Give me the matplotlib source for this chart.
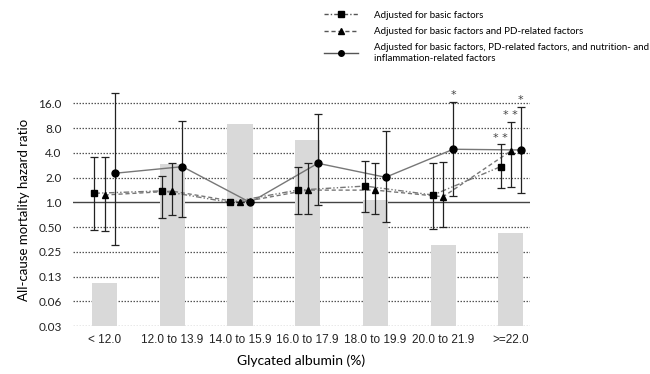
import numpy as np
from matplotlib import pyplot as plt
from matplotlib.lines import Line2D

categories = ['< 12.0', '12.0 to 13.9', '14.0 to 15.9', '16.0 to 17.9',
              '18.0 to 19.9', '20.0 to 21.9', '>=22.0']
bar_values = [0.106, 2.93, 9.0, 5.7, 1.07, 0.30, 0.43]

# hazard ratio, lower, upper
basic = [1.29, 1.38, 1.0, 1.41, 1.58, 1.23, 2.72]
basic_lo = [0.46, 0.65, 1.0, 0.72, 0.77, 0.48, 1.51]
basic_hi = [3.53, 2.09, 1.0, 2.67, 3.19, 2.99, 5.13]

pd_adj = [1.23, 1.37, 1.0, 1.41, 1.41, 1.17, 4.22]
pd_lo = [0.45, 0.70, 1.0, 0.73, 0.73, 0.50, 1.55]
pd_hi = [3.53, 3.04, 1.0, 3.04, 2.99, 3.12, 9.6]

full = [2.26, 2.72, 1.0, 2.99, 2.02, 4.43, 4.34]
full_lo = [0.30, 0.67, 1.0, 0.93, 0.57, 1.19, 1.29]
full_hi = [21.3, 9.8, 1.0, 11.8, 7.4, 16.8, 14.6]

# significance marks: (series index, category index, text)
marks = [(2, 5, '*'), (0, 6, '* *'), (1, 6, '* *'), (2, 6, '*')]

yticks = [1/32, 1/16, 1/8, 1/4, 1/2, 1, 2, 4, 8, 16]
ytick_labels = ['0.03', '0.06', '0.13', '0.25', '0.50', '1.0', '2.0', '4.0', '8.0', '16.0']

fig = plt.figure(figsize=(6.5, 3.74), dpi=100)
ax = fig.add_axes([0.112, 0.128, 0.703, 0.622])

x = np.arange(len(categories))
ax.set_yscale('log', base=2)
ax.set_ylim(1/32, 2 ** 4.4)
ax.set_xlim(-0.47, 6.28)

for t in yticks:
    if t == 1:
        ax.axhline(t, color='#444444', lw=1.0, zorder=1)
    else:
        ax.axhline(t, color='#555555', lw=0.9, ls=(0, (1.2, 1.2)), zorder=1)

ax.bar(x, np.array(bar_values) - 1/32, bottom=1/32, width=0.37,
       color='#d9d9d9', zorder=2)

series = [
    (basic, basic_lo, basic_hi, 's', (0, (4, 1.5, 1, 1.5, 1, 1.5)), -0.15),
    (pd_adj, pd_lo, pd_hi, '^', (0, (3, 2)), 0.0),
    (full, full_lo, full_hi, 'o', '-', 0.15),
]
tops = []
for vals, lo, hi, mk, ls, off in series:
    vals = np.array(vals)
    err = [vals - np.array(lo), np.array(hi) - vals]
    ax.plot(x + off, vals, color='#777777', lw=1.0, ls=ls, zorder=3)
    ax.errorbar(x + off, vals, yerr=err, fmt='none', ecolor='#222222',
                elinewidth=0.9, capsize=3, capthick=0.9, zorder=4, clip_on=False)
    ax.plot(x + off, vals, ls='none', marker=mk, color='black', ms=5, zorder=5)
    tops.append((off, hi))

for si, ci, txt in marks:
    off, hi = tops[si]
    ax.annotate(txt, (ci + off, hi[ci]), xytext=(0, 1), textcoords='offset points',
                ha='center', va='bottom', fontsize=8, color='#444444')

ax.set_yticks(yticks)
ax.set_yticklabels(ytick_labels, fontsize=8.5, family='Lato', color='#222222')
ax.yaxis.set_minor_locator(plt.NullLocator())
ax.set_xticks(x)
ax.set_xticklabels(categories, fontsize=8.5, family='Liberation Sans', color='#222222')
ax.tick_params(axis='y', length=0, pad=8)
ax.tick_params(axis='x', length=0, pad=6)
for s in ax.spines.values():
    s.set_visible(False)

ax.set_ylabel('All-cause mortality hazard ratio', fontsize=9.5, family='Lato', labelpad=6)
ax.set_xlabel('Glycated albumin (%)', fontsize=10, family='Lato', labelpad=6)

handles = [
    Line2D([], [], color='#555555', ls=(0, (3, 1.5, 1, 1.5)), lw=1, marker='s',
           mfc='black', mec='black', ms=4),
    Line2D([], [], color='#555555', ls=(0, (3, 2)), lw=1, marker='^',
           mfc='black', mec='black', ms=4),
    Line2D([], [], color='#555555', ls='-', lw=1, marker='o',
           mfc='black', mec='black', ms=4),
]
labels = ['Adjusted for basic factors',
          'Adjusted for basic factors and PD-related factors',
          'Adjusted for basic factors, PD-related factors, and nutrition- and\ninflammation-related factors']
fig.legend(handles, labels, loc='upper left', bbox_to_anchor=(0.485, 0.995),
           frameon=False, prop={'family': 'Lato', 'size': 7}, handlelength=3.5,
           labelspacing=0.75, handletextpad=1.6)

fig.savefig('out.png', dpi=100)
